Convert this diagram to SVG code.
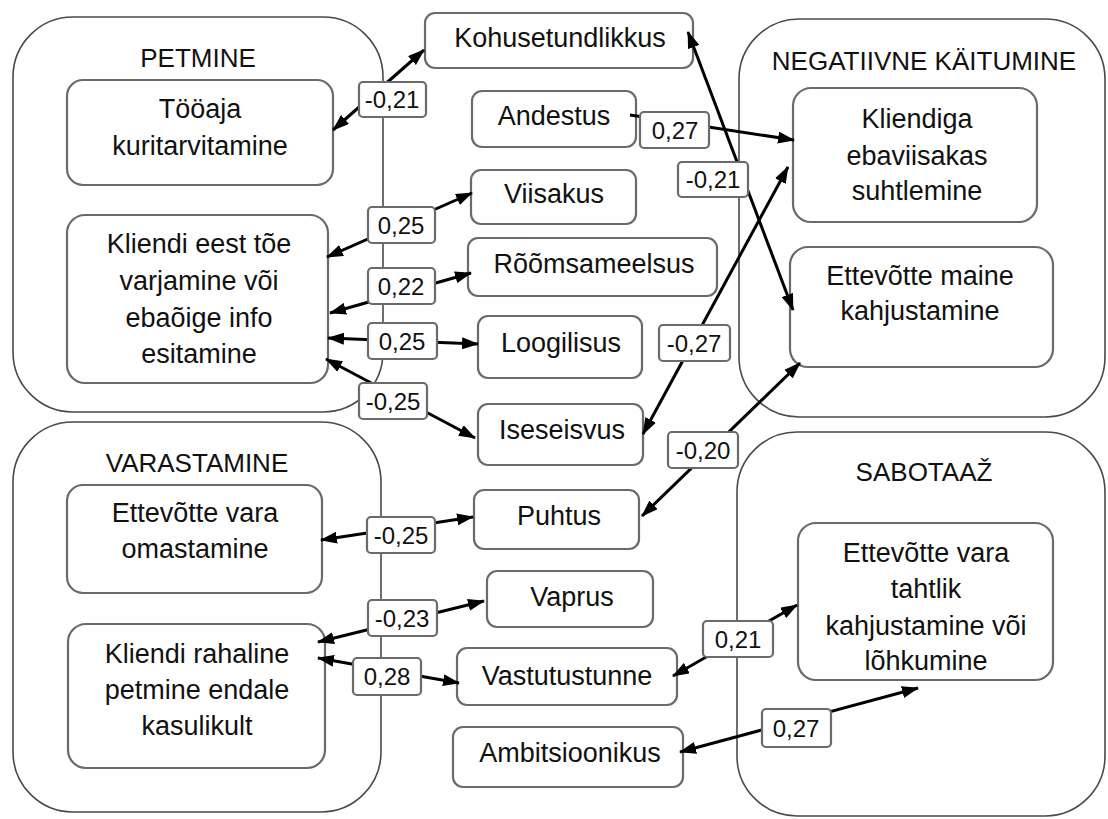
<svg xmlns="http://www.w3.org/2000/svg" width="1108" height="819" viewBox="0 0 1108 819">
  <style>
    .grp { fill: none; stroke: #4a4a4a; stroke-width: 1.6; }
    .box { fill: #ffffff; stroke: #6a6a6a; stroke-width: 2.2; }
    .lbl { fill: #ffffff; stroke: #6a6a6a; stroke-width: 2.2; }
    .t { font-family: "Liberation Sans", Arial, sans-serif; font-size: 27px; fill: #111; text-anchor: middle; }
    .tt { font-family: "Liberation Sans", Arial, sans-serif; font-size: 26px; fill: #111; text-anchor: middle; }
    .lt { font-family: "Liberation Sans", Arial, sans-serif; font-size: 24px; fill: #111; text-anchor: middle; }
    .c { stroke: #000; stroke-width: 3; fill: none; }
    .both { marker-start: url(#ah); marker-end: url(#ah); }
    .one { marker-end: url(#ah); }
  </style>
  <defs>
    <marker id="ah" markerWidth="17" markerHeight="12" refX="16" refY="6" orient="auto-start-reverse" markerUnits="userSpaceOnUse">
      <path d="M0,0 L17,6 L0,12 z" fill="#000"/>
    </marker>
  </defs>
  <rect width="1108" height="819" fill="#ffffff"/>

  <!-- category containers -->
  <g id="petmine">
    <rect class="grp" x="13" y="17" width="370" height="395" rx="60"/>
    <text class="tt" x="198" y="67">PETMINE</text>
  </g>
  <g id="varastamine">
    <rect class="grp" x="13" y="422" width="368" height="390" rx="60"/>
    <text class="tt" x="197" y="472">VARASTAMINE</text>
  </g>
  <g id="negatiivne">
    <rect class="grp" x="739" y="19" width="366" height="398" rx="60"/>
    <text class="tt" x="924" y="70">NEGATIIVNE KÄITUMINE</text>
  </g>
  <g id="sabotaaz">
    <rect class="grp" x="737" y="432" width="368" height="384" rx="60"/>
    <text class="tt" x="924" y="481">SABOTAAŽ</text>
  </g>

  <!-- behaviour nodes -->
  <g id="tooaja">
    <rect class="box" x="67" y="80" width="266" height="105" rx="16"/>
    <text class="t" x="200" y="118">Tööaja</text>
    <text class="t" x="200" y="155">kuritarvitamine</text>
  </g>
  <g id="toe-varjamine">
    <rect class="box" x="67" y="215" width="261" height="168" rx="18"/>
    <text class="t" x="199" y="253">Kliendi eest tõe</text>
    <text class="t" x="199" y="290">varjamine või</text>
    <text class="t" x="199" y="327">ebaõige info</text>
    <text class="t" x="199" y="363">esitamine</text>
  </g>
  <g id="vara-omastamine">
    <rect class="box" x="67" y="485" width="255" height="108" rx="16"/>
    <text class="t" x="195" y="522">Ettevõtte vara</text>
    <text class="t" x="195" y="558">omastamine</text>
  </g>
  <g id="rahaline-petmine">
    <rect class="box" x="68" y="624" width="257" height="144" rx="18"/>
    <text class="t" x="197" y="663">Kliendi rahaline</text>
    <text class="t" x="197" y="699">petmine endale</text>
    <text class="t" x="197" y="735">kasulikult</text>
  </g>
  <g id="ebaviisakas">
    <rect class="box" x="793" y="88" width="244" height="134" rx="18"/>
    <text class="t" x="917" y="128">Kliendiga</text>
    <text class="t" x="917" y="165">ebaviisakas</text>
    <text class="t" x="917" y="200">suhtlemine</text>
  </g>
  <g id="maine">
    <rect class="box" x="790" y="247" width="263" height="120" rx="18"/>
    <text class="t" x="920" y="285">Ettevõtte maine</text>
    <text class="t" x="920" y="320">kahjustamine</text>
  </g>
  <g id="lohkumine">
    <rect class="box" x="798" y="523" width="255" height="157" rx="18"/>
    <text class="t" x="926" y="562">Ettevõtte vara</text>
    <text class="t" x="926" y="598">tahtlik</text>
    <text class="t" x="926" y="635">kahjustamine või</text>
    <text class="t" x="926" y="670">lõhkumine</text>
  </g>

  <!-- trait nodes -->
  <g id="kohusetundlikkus">
    <rect class="box" x="425" y="13" width="268" height="55" rx="10"/>
    <text class="t" x="560" y="47">Kohusetundlikkus</text>
  </g>
  <g id="andestus">
    <rect class="box" x="472" y="91" width="164" height="56" rx="10"/>
    <text class="t" x="554" y="125">Andestus</text>
  </g>
  <g id="viisakus">
    <rect class="box" x="471" y="170" width="165" height="54" rx="10"/>
    <text class="t" x="554" y="203">Viisakus</text>
  </g>
  <g id="roomsameelsus">
    <rect class="box" x="468" y="238" width="249" height="58" rx="10"/>
    <text class="t" x="594" y="273">Rõõmsameelsus</text>
  </g>
  <g id="loogilisus">
    <rect class="box" x="478" y="316" width="164" height="62" rx="10"/>
    <text class="t" x="561" y="352">Loogilisus</text>
  </g>
  <g id="iseseisvus">
    <rect class="box" x="478" y="404" width="165" height="61" rx="10"/>
    <text class="t" x="562" y="439">Iseseisvus</text>
  </g>
  <g id="puhtus">
    <rect class="box" x="474" y="490" width="165" height="59" rx="10"/>
    <text class="t" x="559" y="525">Puhtus</text>
  </g>
  <g id="vaprus">
    <rect class="box" x="487" y="571" width="166" height="56" rx="10"/>
    <text class="t" x="572" y="606">Vaprus</text>
  </g>
  <g id="vastutustunne">
    <rect class="box" x="457" y="648" width="220" height="57" rx="10"/>
    <text class="t" x="567" y="685">Vastutustunne</text>
  </g>
  <g id="ambitsioonikus">
    <rect class="box" x="453" y="727" width="230" height="60" rx="10"/>
    <text class="t" x="570" y="762">Ambitsioonikus</text>
  </g>

  <!-- correlation connectors -->
  <g id="connectors">
    <line class="c both" x1="333" y1="130" x2="424" y2="50"/>
    <line class="c both" x1="327" y1="257" x2="472" y2="193"/>
    <line class="c both" x1="330" y1="313" x2="471" y2="273"/>
    <line class="c both" x1="328" y1="338" x2="478" y2="344"/>
    <line class="c both" x1="326" y1="359" x2="475" y2="438"/>
    <line class="c both" x1="321" y1="540" x2="473" y2="517"/>
    <line class="c both" x1="318" y1="642" x2="484" y2="601"/>
    <line class="c both" x1="318" y1="658" x2="459" y2="683"/>
    <line class="c one" x1="630" y1="115" x2="794" y2="140"/>
    <line class="c both" x1="688" y1="32" x2="793" y2="310"/>
    <line class="c both" x1="643" y1="434" x2="788" y2="167"/>
    <line class="c both" x1="642" y1="516" x2="800" y2="363"/>
    <line class="c both" x1="673" y1="676" x2="797" y2="605"/>
    <line class="c both" x1="680" y1="752" x2="918" y2="688"/>
  </g>

  <!-- correlation labels -->
  <g id="labels">
    <rect class="lbl" x="359" y="82" width="67" height="35" rx="4"/>
    <text class="lt" x="392" y="108">-0,21</text>
    <rect class="lbl" x="368" y="207" width="67" height="36" rx="4"/>
    <text class="lt" x="401" y="234">0,25</text>
    <rect class="lbl" x="368" y="268" width="67" height="36" rx="4"/>
    <text class="lt" x="401" y="295">0,22</text>
    <rect class="lbl" x="368" y="323" width="69" height="36" rx="4"/>
    <text class="lt" x="402" y="350">0,25</text>
    <rect class="lbl" x="359" y="383" width="68" height="36" rx="4"/>
    <text class="lt" x="393" y="410">-0,25</text>
    <rect class="lbl" x="367" y="517" width="68" height="36" rx="4"/>
    <text class="lt" x="401" y="544">-0,25</text>
    <rect class="lbl" x="368" y="600" width="69" height="36" rx="4"/>
    <text class="lt" x="402" y="627">-0,23</text>
    <rect class="lbl" x="353" y="658" width="68" height="37" rx="4"/>
    <text class="lt" x="387" y="685">0,28</text>
    <rect class="lbl" x="640" y="112" width="69" height="36" rx="4"/>
    <text class="lt" x="675" y="139">0,27</text>
    <rect class="lbl" x="678" y="162" width="70" height="35" rx="4"/>
    <text class="lt" x="713" y="188">-0,21</text>
    <rect class="lbl" x="659" y="325" width="71" height="36" rx="4"/>
    <text class="lt" x="694" y="352">-0,27</text>
    <rect class="lbl" x="668" y="432" width="70" height="36" rx="4"/>
    <text class="lt" x="703" y="459">-0,20</text>
    <rect class="lbl" x="703" y="621" width="70" height="36" rx="4"/>
    <text class="lt" x="738" y="648">0,21</text>
    <rect class="lbl" x="762" y="709" width="69" height="38" rx="4"/>
    <text class="lt" x="796" y="737">0,27</text>
  </g>
</svg>
